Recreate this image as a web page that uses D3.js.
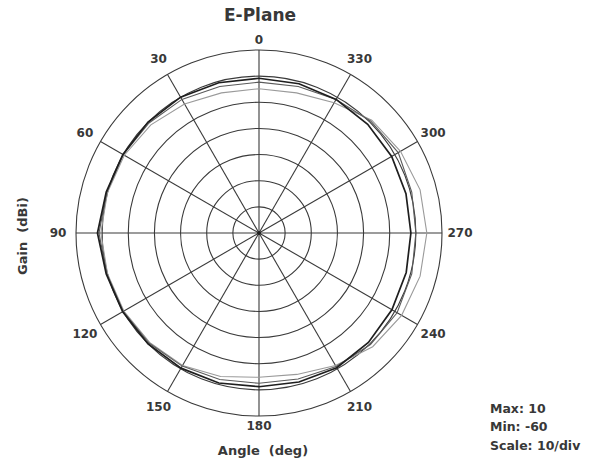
<!DOCTYPE html>
<html>
<head>
<meta charset="utf-8">
<script src="https://cdn.jsdelivr.net/npm/d3@7"></script>
<style>
  body { margin: 0; background: #fff; }
  text { font-family: "DejaVu Sans", Verdana, sans-serif; font-weight: bold; fill: #383838; }
</style>
</head>
<body>
<div class="chart"></div>
<script>
// pattern samples every 15 deg, angle counted counter-clockwise from top
const angles = d3.range(0, 360, 15);
const gainBlack = [-0.8, -0.5, 0, 0, 0.1, 0.5, 1.8, 0.5, 0.2, 0, -0.3, -0.6,
                   -1.2, -1.0, -0.5, -0.8, -1.3, -1.7, -1.9, -1.8, -1.4, -1.2, -1.0, -0.9];
const gainMid   = [-2.3, -2.0, -1.0, -0.5, 0, 0.3, 1.2, 0.3, 0, -0.5, -1.2, -2.0,
                   -2.5, -2.2, -1.0, 0.3, 1.0, 0.5, 0, 0.5, 1.5, 0.5, -1.0, -2.0];
const gainGrey  = [-4.8, -4.5, -3.0, -1.5, -0.5, 0, 0.5, 0, -0.3, -0.8, -1.5, -3.2,
                   -4.8, -4.0, -1.5, 1.5, 3.0, 3.8, 4.2, 3.8, 2.5, 1.0, -2.5, -4.5];

const ringValues = [-50, -40, -30, -20, -10, 0, 10];
const spokeAngles = d3.range(0, 360, 30);
const gainMax = 10, gainMin = -60;
const infoLines = ['Max: 10', 'Min: -60', 'Scale: 10/div'];

class PolarChart {
  constructor() {
    this._width = 601;
    this._height = 463;
    this.cx = 259;
    this.cy = 233;
    this.r = d3.scaleLinear().domain([gainMin, gainMax]).range([0, 183]);
    this.svg = d3.select('.chart').append('svg')
      .attr('width', this._width)
      .attr('height', this._height);
    this.g = this.svg.append('g')
      .attr('transform', `translate(${this.cx},${this.cy})`);
  }

  // screen position for a ccw angle (deg) and radius
  pos(deg, rad) {
    const a = deg * Math.PI / 180;
    return [-rad * Math.sin(a), -rad * Math.cos(a)];
  }

  drawGrid() {
    this.g.selectAll('.ring').data(ringValues).enter()
      .append('circle')
      .attr('r', d => this.r(d))
      .attr('fill', 'none')
      .attr('stroke', '#3a3a3a')
      .attr('stroke-width', 1.1);

    this.g.selectAll('.spoke').data(spokeAngles).enter()
      .append('line')
      .attr('x1', 0).attr('y1', 0)
      .attr('x2', d => this.pos(d, this.r(gainMax))[0])
      .attr('y2', d => this.pos(d, this.r(gainMax))[1])
      .attr('stroke', '#3a3a3a')
      .attr('stroke-width', 1.1);

    this.g.append('circle').attr('r', 2).attr('fill', '#222');

    this.g.selectAll('.alab').data(spokeAngles).enter()
      .append('text')
      .attr('x', d => this.pos(d, d % 180 === 0 ? 193 : 201)[0])
      .attr('y', d => this.pos(d, d % 180 === 0 ? 193 : 201)[1])
      .attr('text-anchor', 'middle')
      .attr('dominant-baseline', 'central')
      .style('font-size', '12px')
      .text(d => d);
    return this;
  }

  drawTraces() {
    const line = d3.lineRadial()
      .angle(d => -d[0] * Math.PI / 180)
      .radius(d => this.r(d[1]))
      .curve(d3.curveLinearClosed);
    const traces = [
      { v: gainGrey, c: '#9a9a9a', w: 1.1 },
      { v: gainMid, c: '#5a5a5a', w: 1.1 },
      { v: gainBlack, c: '#1e1e1e', w: 1.7 }
    ];
    traces.forEach(t => {
      this.g.append('path')
        .attr('d', line(angles.map((a, i) => [a, t.v[i]])))
        .attr('fill', 'none')
        .attr('stroke', t.c)
        .attr('stroke-width', t.w);
    });
    return this;
  }

  drawText() {
    this.svg.append('text')
      .attr('x', 260).attr('y', 15)
      .attr('text-anchor', 'middle')
      .attr('dominant-baseline', 'central')
      .style('font-size', '17px')
      .text('E-Plane');

    this.svg.append('text')
      .attr('x', 263).attr('y', 450)
      .attr('text-anchor', 'middle')
      .attr('dominant-baseline', 'central')
      .style('font-size', '13px')
      .style('white-space', 'pre')
      .text('Angle  (deg)');

    this.svg.append('text')
      .attr('transform', 'translate(22,236) rotate(-90)')
      .attr('text-anchor', 'middle')
      .attr('dominant-baseline', 'central')
      .style('font-size', '13px')
      .style('white-space', 'pre')
      .text('Gain  (dBi)');

    this.svg.selectAll('.info').data(infoLines).enter()
      .append('text')
      .attr('x', 490)
      .attr('y', (d, i) => 408 + i * 18.5)
      .attr('dominant-baseline', 'central')
      .style('font-size', '12.5px')
      .text(d => d);
    return this;
  }

  draw() {
    this.drawGrid().drawTraces().drawText();
    return this;
  }
}

new PolarChart().draw();
</script>
</body>
</html>
